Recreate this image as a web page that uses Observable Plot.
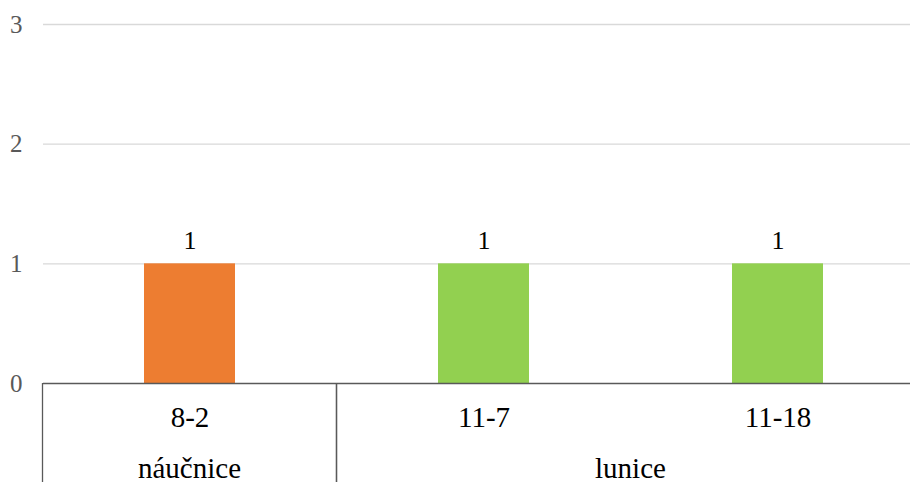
<!DOCTYPE html>
<html><head><meta charset="utf-8">
<script src="https://cdn.jsdelivr.net/npm/d3@7"></script>
<script src="https://cdn.jsdelivr.net/npm/@observablehq/plot@0.6"></script>
<style>
body{margin:0;background:#fff;}
svg{display:block}
</style>
</head><body><div id="chart"></div>
<script>
const categories = ["8-2", "11-7", "11-18"];
const counts = [1, 1, 1];
const groups = ["náučnice", "lunice", "lunice"];
const groupNames = ["náučnice", "lunice"];
const yTicks = [0, 1, 2, 3];

const data = categories.map((c, i) => ({category: c, count: counts[i], group: groups[i]}));
const axisColor = "#595959";
const font = "Liberation Serif";

function groupRow(index, scales, values, dims) {
  const x = scales.x;
  const bw = x.bandwidth();
  const step = x.step();
  const y0 = dims.height - dims.marginBottom;
  const g = d3.create("svg:g");
  for (const name of groupNames) {
    const members = categories.filter((c, i) => groups[i] === name);
    const left = x(members[0]) - (step - bw) / 2;
    const right = x(members[members.length - 1]) + bw + (step - bw) / 2;
    for (const xx of [left, right]) {
      g.append("line").attr("x1", xx).attr("x2", xx).attr("y1", y0).attr("y2", dims.height)
        .attr("stroke", axisColor).attr("stroke-width", 1.3);
    }
    g.append("text").attr("x", (left + right) / 2).attr("y", y0 + 95)
      .attr("text-anchor", "middle").attr("font-family", font).attr("font-size", 29)
      .attr("fill", "#000").text(name);
  }
  return g.node();
}

const chart = Plot.plot({
  width: 910,
  height: 482,
  marginLeft: 43,
  marginRight: 0,
  marginTop: 24,
  marginBottom: 99,
  style: {background: "#fff", fontFamily: font},
  x: {domain: categories, range: [43, 925], paddingInner: 0.69, paddingOuter: 0.345, label: null},
  y: {domain: [0, 3], label: null},
  color: {domain: groupNames, range: ["#ED7D31", "#92D050"]},
  marks: [
    Plot.gridY(yTicks.filter(t => t > 0), {stroke: "#d9d9d9", strokeOpacity: 1, strokeWidth: 1.3}),
    Plot.axisY(yTicks, {tickSize: 0, tickPadding: 21, fontSize: 25, fill: axisColor, textAnchor: "end", tickFormat: "d", fontFamily: font}),
    Plot.barY(data, {x: "category", y: "count", fill: "group"}),
    Plot.ruleY([0], {stroke: axisColor, strokeWidth: 1.5}),
    Plot.axisX({tickSize: 0, tickPadding: 23, fontSize: 29, fill: "#000", fontFamily: font}),
    Plot.text(data, {x: "category", y: "count", text: d => String(d.count), dy: -23.5, fontSize: 26, fill: "#000", fontFamily: font}),
    groupRow
  ]
});
document.getElementById("chart").append(chart);
</script>
</body></html>
